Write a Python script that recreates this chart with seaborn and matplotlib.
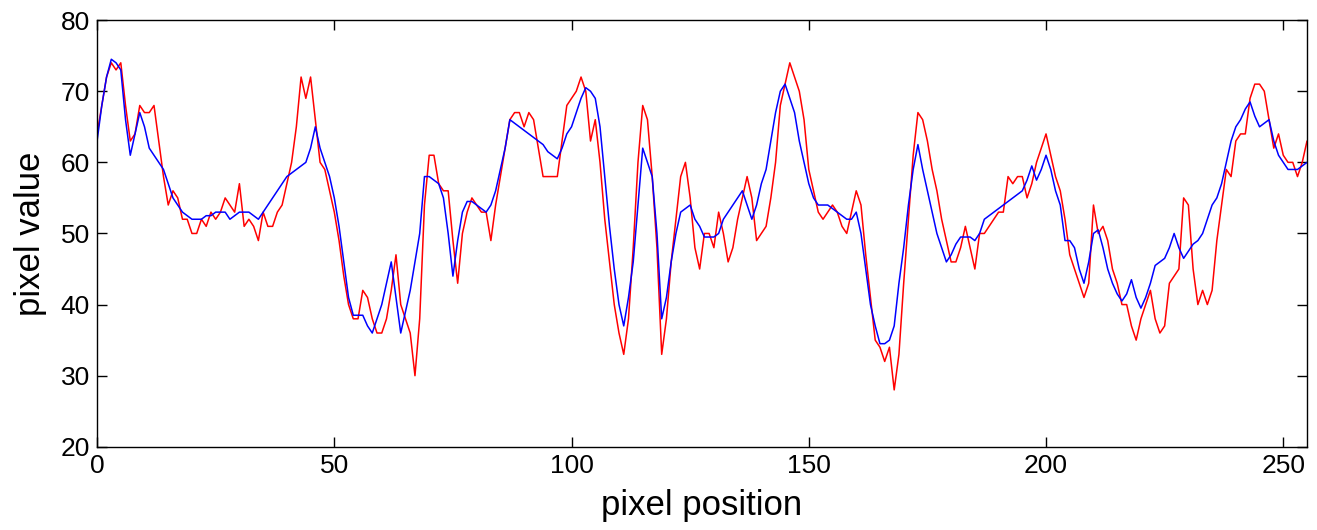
import numpy as np
import pandas as pd
import matplotlib
matplotlib.use("Agg")
import matplotlib.pyplot as plt
import seaborn as sns

red_values = [64, 68, 72, 74, 73, 74, 68, 63, 64, 68, 67, 67, 68, 63, 58, 54, 56, 55, 52, 52,
              50, 50, 52, 51, 53, 52, 53, 55, 54, 53, 57, 51, 52, 51, 49, 53, 51, 51, 53, 54,
              57, 60, 65, 72, 69, 72, 66, 60, 59, 56, 53, 49, 44, 40, 38, 38, 42, 41, 38, 36,
              36, 38, 42, 47, 40, 38, 36, 30, 38, 54, 61, 61, 57, 56, 56, 49, 43, 50, 53, 55,
              54, 53, 53, 49, 54, 58, 62, 66, 67, 67, 65, 67, 66, 62, 58, 58, 58, 58, 63, 68,
              69, 70, 72, 70, 63, 66, 60, 52, 46, 40, 36, 33, 38, 48, 60, 68, 66, 58, 48, 33,
              38, 46, 52, 58, 60, 55, 48, 45, 50, 50, 48, 53, 50, 46, 48, 52, 55, 58, 55, 49,
              50, 51, 55, 60, 68, 71, 74, 72, 70, 66, 59, 56, 53, 52, 53, 54, 53, 51, 50, 53,
              56, 54, 47, 41, 35, 34, 32, 34, 28, 33, 43, 52, 61, 67, 66, 63, 59, 56, 52, 49,
              46, 46, 48, 51, 48, 45, 50, 50, 51, 52, 53, 53, 58, 57, 58, 58, 55, 57, 60, 62,
              64, 61, 58, 56, 52, 47, 45, 43, 41, 43, 54, 50, 51, 49, 45, 43, 40, 40, 37, 35,
              38, 40, 42, 38, 36, 37, 43, 44, 45, 55, 54, 45, 40, 42, 40, 42, 49, 54, 59, 58,
              63, 64, 64, 69, 71, 71, 70, 66, 62, 64, 61, 60, 60, 58, 60, 63]

blue_values = [63, 68, 72, 74.5, 74, 73, 66, 61, 64, 67, 65, 62, 61, 60, 59, 57, 55, 54, 53, 52.5,
               52, 52, 52, 52.5, 52.5, 53, 53, 53, 52, 52.5, 53, 53, 53, 52.5, 52, 53, 54, 55, 56, 57,
               58, 58.5, 59, 59.5, 60, 62, 65, 62, 60, 58, 55, 51, 46, 41, 38.5, 38.5, 38.5, 37, 36, 38,
               40, 43, 46, 41, 36, 39, 42, 46, 50, 58, 58, 57.5, 57, 55, 50, 44, 49, 53, 54.5, 54.5,
               54, 53.5, 53, 54, 56, 59, 62, 66, 65.5, 65, 64.5, 64, 63.5, 63, 62.5, 61.5, 61, 60.5, 62, 64,
               65, 67, 69, 70.5, 70, 69, 65, 58, 51, 45, 40, 37, 41, 46, 54, 62, 60, 58, 50, 38,
               41, 46, 50, 53, 53.5, 54, 52, 51, 49.5, 49.5, 49.5, 50, 52, 53, 54, 55, 56, 54, 52, 54,
               57, 59, 63, 67, 70, 71, 69, 67, 63, 60, 57, 55, 54, 54, 54, 53.5, 53, 52.5, 52, 52,
               53, 50, 45, 40, 37, 34.5, 34.5, 35, 37, 43, 48, 54, 59, 62.5, 59, 56, 53, 50, 48, 46,
               47, 48.5, 49.5, 49.5, 49.5, 49, 50, 52, 52.5, 53, 53.5, 54, 54.5, 55, 55.5, 56, 57.5, 59.5, 57.5, 59,
               61, 59, 56, 54, 49, 49, 48, 45, 43, 46, 50, 50.5, 48, 45, 43, 41.5, 40.5, 41.5, 43.5, 41,
               39.5, 41, 43, 45.5, 46, 46.5, 48, 50, 48, 46.5, 47.5, 48.5, 49, 50, 52, 54, 55, 57, 60, 63,
               65, 66, 67.5, 68.5, 66.5, 65, 65.5, 66, 63, 61, 60, 59, 59, 59, 59.5, 60]

x_ticks = [0, 50, 100, 150, 200, 250]
y_ticks = [20, 30, 40, 50, 60, 70, 80]

positions = np.arange(len(red_values))
df = pd.DataFrame({"pos": positions, "red": red_values, "blue": blue_values})

sns.set_theme(style="white")
plt.rcParams["font.family"] = ["Liberation Sans", "DejaVu Sans"]
plt.rcParams["text.color"] = "black"
plt.rcParams["axes.labelcolor"] = "black"

fig = plt.figure(figsize=(13.17, 5.30), dpi=100)
ax = fig.add_axes([0.0737, 0.157, 0.9187, 0.805])

sns.lineplot(data=df, x="pos", y="red", color="#ff0000", linewidth=1.1, ax=ax)
sns.lineplot(data=df, x="pos", y="blue", color="#0000ff", linewidth=1.1, ax=ax)

ax.set_xlim(0, 255)
ax.set_ylim(20, 80)
ax.set_xticks(x_ticks)
ax.set_yticks(y_ticks)
ax.tick_params(direction="in", length=7, width=1, labelsize=19, top=True, right=True,
               bottom=True, left=True, colors="black", pad=5)
for s in ax.spines.values():
    s.set_color("black")
    s.set_linewidth(1.0)
ax.set_xlabel("pixel position", fontsize=25, labelpad=8, color="black")
ax.set_ylabel("pixel value", fontsize=25, labelpad=10, color="black")

fig.savefig("out.png", dpi=100, facecolor="white")
